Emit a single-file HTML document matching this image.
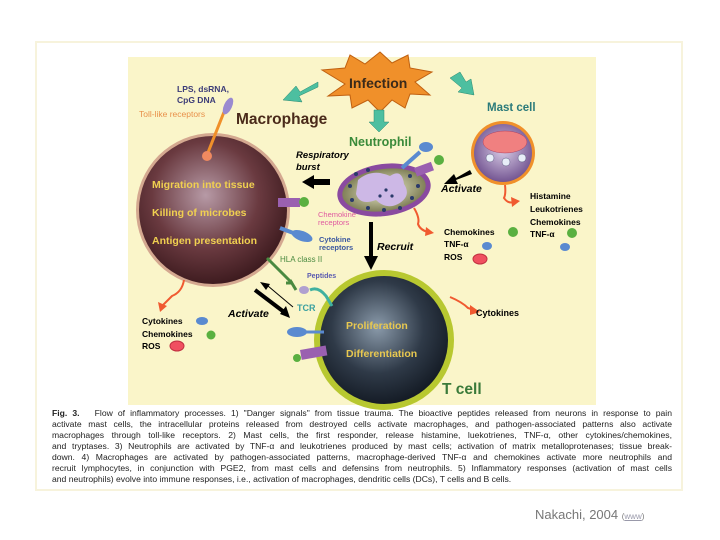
<!DOCTYPE html>
<html><head><meta charset="utf-8"><style>
html,body{margin:0;padding:0;background:#fff;}
body{width:720px;height:540px;position:relative;overflow:hidden;font-family:"Liberation Sans",sans-serif;}
.cap{position:absolute;left:52px;width:620px;font-size:8.6px;line-height:11px;color:#222;}
.cap div{text-align:justify;text-align-last:justify;white-space:nowrap;overflow:hidden;}
</style></head><body>
<div style="position:absolute;left:35px;top:41px;width:648px;height:450px;border:2px solid #f7f3dc;box-sizing:border-box;"></div>
<svg width="720" height="540" style="position:absolute;left:0;top:0" font-family="Liberation Sans, sans-serif">
<defs>
<radialGradient id="mac" cx="0.45" cy="0.4" r="0.6"><stop offset="0" stop-color="#b79aa6"/><stop offset="0.6" stop-color="#6a3a40"/><stop offset="1" stop-color="#3f1c20"/></radialGradient>
<radialGradient id="tc" cx="0.45" cy="0.4" r="0.6"><stop offset="0" stop-color="#8a9aaa"/><stop offset="0.6" stop-color="#2f3a48"/><stop offset="1" stop-color="#151c26"/></radialGradient>
<radialGradient id="ms" cx="0.5" cy="0.45" r="0.6"><stop offset="0" stop-color="#d9cde6"/><stop offset="1" stop-color="#6a4a8a"/></radialGradient>
<radialGradient id="ne" cx="0.5" cy="0.5" r="0.6"><stop offset="0" stop-color="#f0f0d0"/><stop offset="1" stop-color="#6a6a40"/></radialGradient>
</defs>
<rect x="128" y="57" width="468" height="348" fill="#faf5c9"/>
<!-- Infection star -->
<polygon points="322,70 345,68 350,55 365,64 380,52 392,63 408,55 410,68 432,72 415,82 430,95 410,94 405,108 392,100 380,112 368,100 352,108 350,95 328,96 345,84" fill="#f0902a" stroke="#c06010"/>
<text x="349" y="88" font-size="14" font-weight="bold" fill="#3a2a1a">Infection</text>
<!-- teal arrows -->
<polygon points="318,82 300,92 296,86 283,100 302,102 299,96 318,87" fill="#4dbfa0" stroke="#2a8a70" stroke-width="0.5"/>
<polygon points="374,110 384,110 384,122 389,122 379,132 369,122 374,122" fill="#4dbfa0" stroke="#2a8a70" stroke-width="0.5"/>
<polygon points="450,78 460,72 466,82 471,79 474,95 458,92 462,88" fill="#4dbfa0" stroke="#2a8a70" stroke-width="0.5"/>
<!-- Macrophage -->
<circle cx="213" cy="210" r="77" fill="#d4a890"/>
<circle cx="213" cy="210" r="74" fill="url(#mac)"/>
<line x1="207" y1="155" x2="224" y2="112" stroke="#f0902a" stroke-width="3"/>
<circle cx="207" cy="156" r="5" fill="#f08a60"/>
<ellipse cx="228" cy="106" rx="4" ry="9" fill="#9a8ad0" transform="rotate(25 228 106)"/>
<text x="177" y="92" font-size="8.5" font-weight="bold" fill="#3c3c78">LPS, dsRNA,</text>
<text x="177" y="103" font-size="8.5" font-weight="bold" fill="#3c3c78">CpG DNA</text>
<text x="139" y="117" font-size="8.5" fill="#e8904a">Toll-like receptors</text>
<text x="236" y="124" font-size="15.5" font-weight="bold" fill="#4a2a1a">Macrophage</text>
<text x="152" y="188" font-size="10.5" font-weight="bold" fill="#f0d050">Migration into tissue</text>
<text x="152" y="216" font-size="10.5" font-weight="bold" fill="#f0d050">Killing of microbes</text>
<text x="152" y="244" font-size="10.5" font-weight="bold" fill="#f0d050">Antigen presentation</text>
<!-- receptors on macrophage -->
<rect x="278" y="198" width="22" height="9" fill="#9a60b0"/>
<circle cx="304" cy="202" r="5" fill="#5ab040"/>
<ellipse cx="302" cy="236" rx="11" ry="5" fill="#5a8ad0" transform="rotate(20 302 236)"/>
<line x1="280" y1="228" x2="296" y2="234" stroke="#5a8ad0" stroke-width="4"/>
<line x1="267" y1="258" x2="292" y2="283" stroke="#4a8a40" stroke-width="3"/>
<path d="M286 283 L292 283 M290 280 L296 290" stroke="#4a8a40" stroke-width="3" fill="none"/>
<text x="318" y="217" font-size="7.5" fill="#e05aa0">Chemokine</text>
<text x="318" y="225" font-size="7.5" fill="#e05aa0">receptors</text>
<text x="319" y="242" font-size="7.5" font-weight="bold" fill="#3c58a0">Cytokine</text>
<text x="319" y="250" font-size="7.5" font-weight="bold" fill="#3c58a0">receptors</text>
<text x="280" y="262" font-size="8" fill="#4a8a40">HLA class II</text>
<text x="307" y="278" font-size="7" font-weight="bold" fill="#5a5ab0">Peptides</text>
<text x="297" y="311" font-size="9" font-weight="bold" fill="#3aa0a0">TCR</text>
<!-- Respiratory burst -->
<text x="296" y="158" font-size="9.5" font-weight="bold" font-style="italic">Respiratory</text>
<text x="296" y="170" font-size="9.5" font-weight="bold" font-style="italic">burst</text>
<polygon points="330,179 314,179 314,175 302,182 314,189 314,185 330,185" fill="#000"/>
<!-- Neutrophil -->
<text x="349" y="146" font-size="12.5" font-weight="bold" fill="#3a8a3a">Neutrophil</text>
<ellipse cx="384" cy="190" rx="47" ry="26" fill="#8a4aa0" transform="rotate(-8 384 190)"/>
<ellipse cx="384" cy="190" rx="42" ry="21" fill="url(#ne)" transform="rotate(-8 384 190)"/>
<path d="M358 180 Q372 168 390 176 Q402 168 404 184 Q412 196 398 204 Q386 210 376 200 Q360 206 356 194 Z" fill="#cdb8e6"/>
<g fill="#2a3a6a"><circle cx="350" cy="186" r="2"/><circle cx="356" cy="174" r="2"/><circle cx="368" cy="170" r="2"/><circle cx="410" cy="176" r="2"/><circle cx="418" cy="186" r="2"/><circle cx="412" cy="198" r="2"/><circle cx="400" cy="208" r="2"/><circle cx="384" cy="210" r="2"/><circle cx="368" cy="208" r="2"/><circle cx="352" cy="200" r="2"/><circle cx="386" cy="190" r="1.6"/><circle cx="392" cy="196" r="1.6"/><circle cx="380" cy="196" r="1.6"/></g>
<line x1="402" y1="168" x2="420" y2="152" stroke="#5a8ad0" stroke-width="4"/>
<ellipse cx="426" cy="147" rx="7" ry="5" fill="#5a8ad0"/>
<rect x="414" y="168" width="18" height="9" fill="#9a60b0" transform="rotate(-20 414 168)"/>
<circle cx="439" cy="160" r="5" fill="#5ab040"/>
<path d="M414 208 Q420 218 418 224 Q420 230 428 232" stroke="#f05a30" stroke-width="2" fill="none"/>
<polygon points="426,227 434,233 425,236" fill="#f05a30"/>
<!-- Recruit -->
<rect x="369" y="222" width="4" height="36" fill="#000"/>
<polygon points="364,256 378,256 371,270" fill="#000"/>
<text x="377" y="250" font-size="10.5" font-weight="bold" font-style="italic">Recruit</text>
<!-- Mast cell -->
<text x="487" y="111" font-size="11.5" font-weight="bold" fill="#2a7a7a">Mast cell</text>
<circle cx="503" cy="153" r="32" fill="#f0902a"/>
<circle cx="503" cy="153" r="29" fill="url(#ms)"/>
<ellipse cx="505" cy="142" rx="22" ry="11" fill="#f08080" stroke="#b04060" stroke-width="0.5"/>
<g fill="#e8eef8" stroke="#5a5a80" stroke-width="0.5"><circle cx="490" cy="158" r="4"/><circle cx="506" cy="162" r="4"/><circle cx="522" cy="158" r="4"/></g>
<path d="M505 185 Q506 194 504 198 Q508 204 514 202" stroke="#f05a30" stroke-width="2" fill="none"/>
<polygon points="511,197 520,201 512,207" fill="#f05a30"/>
<polygon points="470,170 456,178 454,174 444,184 458,184 456,180 472,174" fill="#000"/>
<text x="441" y="192" font-size="10.5" font-weight="bold" font-style="italic">Activate</text>
<g font-size="8.5" font-weight="bold"><text x="530" y="199">Histamine</text><text x="530" y="212">Leukotrienes</text><text x="530" y="225">Chemokines</text><text x="530" y="237">TNF-α</text>
<text x="444" y="235">Chemokines</text><text x="444" y="247">TNF-α</text><text x="444" y="260">ROS</text></g>
<circle cx="513" cy="232" r="5" fill="#5ab040"/><circle cx="572" cy="233" r="5" fill="#5ab040"/>
<ellipse cx="487" cy="246" rx="5" ry="4" fill="#5a8ad0"/><ellipse cx="565" cy="247" rx="5" ry="4" fill="#5a8ad0"/>
<ellipse cx="480" cy="259" rx="7" ry="5" fill="#f05060" stroke="#c03040"/>
<!-- T cell -->
<circle cx="384" cy="340" r="70" fill="#b8c830"/>
<circle cx="384" cy="340" r="64" fill="url(#tc)"/>
<text x="346" y="329" font-size="10.5" font-weight="bold" fill="#e8c850">Proliferation</text>
<text x="346" y="357" font-size="10.5" font-weight="bold" fill="#e8c850">Differentiation</text>
<text x="442" y="394" font-size="15.5" font-weight="bold" fill="#3a7a3a">T cell</text>
<path d="M310 290 Q318 286 326 296 L332 306" stroke="#40b0a0" stroke-width="3" fill="none"/>
<ellipse cx="304" cy="290" rx="5" ry="4" fill="#b0a0d0"/>
<ellipse cx="297" cy="332" rx="10" ry="5" fill="#5a8ad0"/>
<line x1="300" y1="332" x2="324" y2="332" stroke="#5a8ad0" stroke-width="3"/>
<rect x="300" y="350" width="26" height="10" fill="#9a60b0" transform="rotate(-10 300 350)"/>
<circle cx="297" cy="358" r="4" fill="#5ab040"/>
<line x1="255" y1="290" x2="284" y2="312" stroke="#000" stroke-width="4"/>
<polygon points="280,314 290,318 286,306" fill="#000"/>
<line x1="268" y1="286" x2="293" y2="307" stroke="#000" stroke-width="1"/>
<polygon points="260,282 270,284 266,290" fill="#000"/>
<text x="228" y="317" font-size="10.5" font-weight="bold" font-style="italic">Activate</text>
<path d="M450 297 Q462 302 468 308 L474 310" stroke="#f05a30" stroke-width="2" fill="none"/>
<polygon points="470,305 480,312 470,315" fill="#f05a30"/>
<text x="476" y="316" font-size="9" font-weight="bold">Cytokines</text>
<!-- macrophage output -->
<path d="M184 280 Q182 292 172 296 L163 305" stroke="#f05a30" stroke-width="2" fill="none"/>
<polygon points="158,302 167,306 160,312" fill="#f05a30"/>
<g font-size="8.5" font-weight="bold"><text x="142" y="324">Cytokines</text><text x="142" y="337">Chemokines</text><text x="142" y="349">ROS</text></g>
<ellipse cx="202" cy="321" rx="6" ry="4" fill="#5a8ad0"/><circle cx="211" cy="335" r="4.5" fill="#5ab040"/>
<ellipse cx="177" cy="346" rx="7" ry="5" fill="#f05060" stroke="#c03040"/>
</svg>
<div class="cap" style="top:408px;">
<div><b>Fig. 3.</b>&nbsp;&nbsp; Flow of inflammatory processes. 1) "Danger signals" from tissue trauma. The bioactive peptides released from neurons in response to pain</div>
<div>activate mast cells, the intracellular proteins released from destroyed cells activate macrophages, and pathogen-associated patterns also activate</div>
<div>macrophages through toll-like receptors. 2) Mast cells, the first responder, release histamine, luekotrienes, TNF-α, other cytokines/chemokines,</div>
<div>and tryptases. 3) Neutrophils are activated by TNF-α and leukotrienes produced by mast cells; activation of matrix metalloprotenases; tissue break-</div>
<div>down. 4) Macrophages are activated by pathogen-associated patterns, macrophage-derived TNF-α and chemokines activate more neutrophils and</div>
<div>recruit lymphocytes, in conjunction with PGE2, from mast cells and defensins from neutrophils. 5) Inflammatory responses (activation of mast cells</div>
<div style="text-align-last:left;">and neutrophils) evolve into immune responses, i.e., activation of macrophages, dendritic cells (DCs), T cells and B cells.</div>
</div>
<div style="position:absolute;left:535px;top:507px;font-size:13px;color:#777;">Nakachi, 2004 <span style="font-size:8px;">(<span style="color:#99a;text-decoration:underline;">www</span>)</span></div>
</body></html>
